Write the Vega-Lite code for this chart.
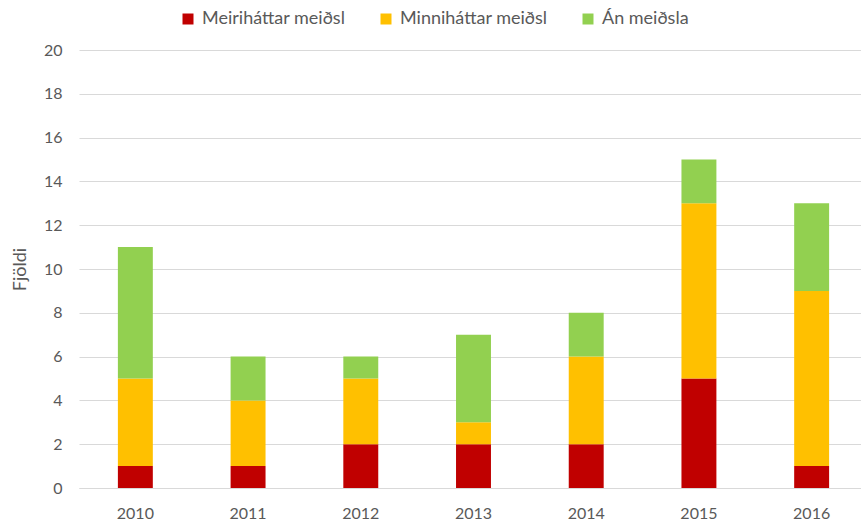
{
  "$schema": "https://vega.github.io/schema/vega-lite/v6.json",
  "width": 782,
  "height": 438,
  "autosize": {"type": "none"},
  "padding": {"left": 79, "top": 50, "right": 0, "bottom": 35},
  "background": "white",
  "config": {
    "font": "Lato",
    "view": {"stroke": null}
  },
  "data": {
    "values": [
      {"ar": "2010", "flokkur": "Meiriháttar meiðsl", "rod": 1, "fjoldi": 1},
      {"ar": "2010", "flokkur": "Minniháttar meiðsl", "rod": 2, "fjoldi": 4},
      {"ar": "2010", "flokkur": "Án meiðsla", "rod": 3, "fjoldi": 6},
      {"ar": "2011", "flokkur": "Meiriháttar meiðsl", "rod": 1, "fjoldi": 1},
      {"ar": "2011", "flokkur": "Minniháttar meiðsl", "rod": 2, "fjoldi": 3},
      {"ar": "2011", "flokkur": "Án meiðsla", "rod": 3, "fjoldi": 2},
      {"ar": "2012", "flokkur": "Meiriháttar meiðsl", "rod": 1, "fjoldi": 2},
      {"ar": "2012", "flokkur": "Minniháttar meiðsl", "rod": 2, "fjoldi": 3},
      {"ar": "2012", "flokkur": "Án meiðsla", "rod": 3, "fjoldi": 1},
      {"ar": "2013", "flokkur": "Meiriháttar meiðsl", "rod": 1, "fjoldi": 2},
      {"ar": "2013", "flokkur": "Minniháttar meiðsl", "rod": 2, "fjoldi": 1},
      {"ar": "2013", "flokkur": "Án meiðsla", "rod": 3, "fjoldi": 4},
      {"ar": "2014", "flokkur": "Meiriháttar meiðsl", "rod": 1, "fjoldi": 2},
      {"ar": "2014", "flokkur": "Minniháttar meiðsl", "rod": 2, "fjoldi": 4},
      {"ar": "2014", "flokkur": "Án meiðsla", "rod": 3, "fjoldi": 2},
      {"ar": "2015", "flokkur": "Meiriháttar meiðsl", "rod": 1, "fjoldi": 5},
      {"ar": "2015", "flokkur": "Minniháttar meiðsl", "rod": 2, "fjoldi": 8},
      {"ar": "2015", "flokkur": "Án meiðsla", "rod": 3, "fjoldi": 2},
      {"ar": "2016", "flokkur": "Meiriháttar meiðsl", "rod": 1, "fjoldi": 1},
      {"ar": "2016", "flokkur": "Minniháttar meiðsl", "rod": 2, "fjoldi": 8},
      {"ar": "2016", "flokkur": "Án meiðsla", "rod": 3, "fjoldi": 4}
    ]
  },
  "mark": {"type": "bar"},
  "encoding": {
    "x": {
      "field": "ar",
      "type": "nominal",
      "scale": {"range": [0, 789], "paddingInner": 0.69, "paddingOuter": 0.345},
      "axis": {
        "title": null,
        "labelAngle": 0,
        "labelFontSize": 16,
        "labelColor": "#595959",
        "labelPadding": 17,
        "domainColor": "#D9D9D9",
        "ticks": false
      }
    },
    "y": {
      "field": "fjoldi",
      "type": "quantitative",
      "aggregate": "sum",
      "stack": "zero",
      "scale": {"domain": [0, 20]},
      "axis": {
        "title": "Fjöldi",
        "titleFontSize": 18,
        "titleFontWeight": "normal",
        "titleColor": "#595959",
        "titlePadding": 14,
        "values": [0, 2, 4, 6, 8, 10, 12, 14, 16, 18, 20],
        "labelFontSize": 16,
        "labelColor": "#595959",
        "labelPadding": 17,
        "domain": false,
        "ticks": false,
        "gridColor": "#D9D9D9"
      }
    },
    "color": {
      "field": "flokkur",
      "type": "nominal",
      "scale": {
        "domain": ["Meiriháttar meiðsl", "Minniháttar meiðsl", "Án meiðsla"],
        "range": ["#C00000", "#FFC000", "#92D050"]
      },
      "legend": {
        "title": null,
        "orient": "none",
        "direction": "horizontal",
        "legendX": 100,
        "legendY": -40,
        "symbolType": "square",
        "symbolSize": 121,
        "symbolStrokeWidth": 0,
        "labelFontSize": 18,
        "labelColor": "#595959",
        "columnPadding": 31,
        "labelOffset": 5
      }
    },
    "order": {"field": "rod", "type": "quantitative"}
  }
}
